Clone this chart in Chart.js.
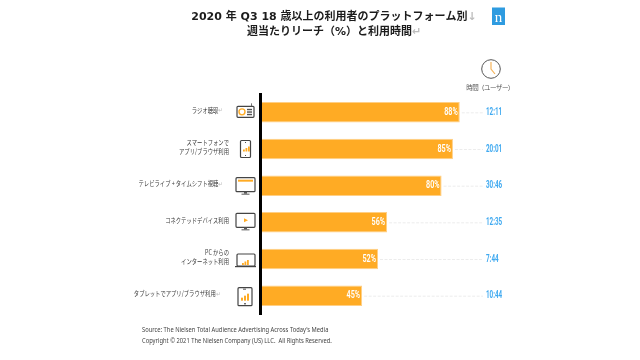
<!DOCTYPE html>
<html lang="ja"><head><meta charset="utf-8">
<script src="https://cdn.jsdelivr.net/npm/chart.js@4"></script>
<style>html,body{margin:0;padding:0;background:#fff}canvas{display:block;filter:blur(0.35px)}</style>
</head><body><canvas id="c" width="640" height="360"></canvas>
<script>
const categories = ["ラジオ聴取", ["スマートフォンで","アプリ/ブラウザ利用"], "テレビライブ + タイムシフト視聴", "コネクテッドデバイス利用", ["PC からの","インターネット利用"], "タブレットでアプリ/ブラウザ利用"];
const reach = [88, 85, 80, 56, 52, 45];
const times = ["12:11", "20:01", "30:46", "12:35", "7:44", "10:44"];
const iconKinds = ["radio", "phone", "tv", "tv2", "laptop", "tablet"];
const titleLines = ["2020 年 Q3 18 歳以上の利用者のプラットフォーム別", "週当たりリーチ（%）と利用時間"];
const titleMarks = ["↓", "↵"];
const timeHeader = "時間（ユーザー）";
const sourceLines = ["Source: The Nielsen Total Audience Advertising Across Today's Media", "Copyright © 2021 The Nielsen Company (US) LLC.  All Rights Reserved."];

const JP = '"Noto Sans CJK JP","Noto Sans",sans-serif';
const ORANGE = '#FFAB24', INK = '#3a3a3a';
const TICK_RIGHT = 229, TICK_SQUEEZE = 0.76, TICK_LIFT = 2;
const tickTailSpaces = { 0: 4, 2: 4, 5: 5 };

function squeezed(ctx, text, x, y, sx, align) {
  ctx.save(); ctx.translate(x, y); ctx.scale(sx, 1);
  ctx.textAlign = align; ctx.textBaseline = 'middle';
  ctx.fillText(text, 0, 0); ctx.restore();
}
function box(ctx, x, y, w, h, r) { ctx.beginPath(); ctx.roundRect(x, y, w, h, r); ctx.stroke(); }
function bars(ctx, x, base) {
  ctx.fillStyle = ORANGE;
  [[0,2],[2.5,3.5],[5,5]].forEach(b => ctx.fillRect(x + b[0], base - b[1], 1.8, b[1]));
}
function drawIcon(ctx, kind, y) {
  ctx.strokeStyle = '#444'; ctx.lineWidth = 1.2; ctx.fillStyle = ORANGE;
  if (kind === 'radio') {
    box(ctx, 237, y - 6, 17, 11, 1);
    ctx.beginPath(); ctx.arc(242, y - 0.5, 3, 0, 7); ctx.strokeStyle = ORANGE; ctx.lineWidth = 1.4; ctx.stroke();
    ctx.fillStyle = '#555'; ctx.fillRect(247, y - 3.5, 5, 1.4); ctx.fillRect(247, y - 1, 5, 1.4); ctx.fillRect(247, y + 1.5, 5, 1.4);
    ctx.fillRect(251, y - 9, 0.8, 3);
  } else if (kind === 'phone') {
    box(ctx, 240.5, y - 8.5, 10, 17, 1);
    ctx.fillStyle = '#555'; ctx.fillRect(245, y - 7, 1, 1); ctx.fillRect(245, y + 6, 1, 1);
    bars(ctx, 243, y + 2.5);
  } else if (kind === 'tv' || kind === 'tv2') {
    const t = kind === 'tv' ? -8 : -9;
    box(ctx, 236, y + t, 19, 14, 1);
    ctx.fillStyle = '#555'; ctx.fillRect(244, y + t + 14, 3, 2); ctx.fillRect(241.5, y + t + 16, 8, 1);
    ctx.fillStyle = ORANGE;
    if (kind === 'tv') ctx.fillRect(238, y + t + 2, 15, 2);
    else { ctx.beginPath(); ctx.moveTo(244, y - 4); ctx.lineTo(248, y - 2); ctx.lineTo(244, y); ctx.closePath(); ctx.fill(); }
  } else if (kind === 'laptop') {
    box(ctx, 237, y - 5, 18, 12, 1);
    ctx.fillStyle = '#444'; ctx.fillRect(235, y + 7, 21, 1.2);
    bars(ctx, 242, y + 6);
  } else {
    box(ctx, 238, y - 8, 14, 18, 1);
    ctx.fillStyle = '#555'; ctx.fillRect(243, y - 7, 3, 1); ctx.fillRect(244, y + 7.5, 2, 1.2);
    ctx.fillStyle = ORANGE;
    [[0,3],[3,5],[6,7]].forEach(b => ctx.fillRect(241 + b[0], y + 5 - b[1], 2, b[1]));
  }
}
function titleLine(ctx, text, mark, cx, y) {
  const tw = ctx.measureText(text).width, mw = ctx.measureText(mark).width;
  const left = cx - (tw + mw) / 2;
  ctx.textAlign = 'left'; ctx.textBaseline = 'middle';
  ctx.fillStyle = '#1c1c1c'; ctx.fillText(text, left, y);
  ctx.fillStyle = '#bdbdbd'; ctx.fillText(mark, left + tw, y);
}

const decorations = {
  id: 'decorations',
  beforeDraw(chart) {
    // The reference's tick labels are horizontally condensed: squeeze the axis's own labels about their right edge.
    const ys = chart.scales.y;
    if (!ys._squeezeWrapped) {
      const orig = ys.drawLabels.bind(ys);
      ys.drawLabels = function (area) {
        const c = chart.ctx; c.save();
        c.translate(TICK_RIGHT, -TICK_LIFT); c.scale(TICK_SQUEEZE, 1); c.translate(-TICK_RIGHT, 0);
        orig(area); c.restore();
      };
      ys._squeezeWrapped = true;
    }
  },
  afterDatasetsDraw(chart) {
    const ctx = chart.ctx, meta = chart.getDatasetMeta(0);
    const xs = chart.scales.x, ys = chart.scales.y;
    ctx.save();
    const timeX = xs.getPixelForValue(100) - 1;
    meta.data.forEach((bar, i) => {
      ctx.strokeStyle = '#ececec'; ctx.lineWidth = 1; ctx.setLineDash([3, 1.5]);
      ctx.beginPath(); ctx.moveTo(bar.x + 2, bar.y + .5); ctx.lineTo(timeX - 3, bar.y + .5); ctx.stroke(); ctx.setLineDash([]);
      ctx.fillStyle = '#fff'; ctx.font = '600 10px Roboto';
      squeezed(ctx, reach[i] + '%', bar.x - 2, bar.y, 0.72, 'right');
      ctx.fillStyle = '#3FA9F0'; ctx.font = 'bold 10.5px Roboto';
      squeezed(ctx, times[i], timeX, bar.y, 0.6, 'left');
      drawIcon(ctx, iconKinds[i], ys.getPixelForValue(i));
      if (i in tickTailSpaces) {
        ctx.fillStyle = '#bdbdbd'; ctx.font = '5.5px ' + JP; ctx.textAlign = 'left'; ctx.textBaseline = 'middle';
        ctx.fillText('↵', TICK_RIGHT - tickTailSpaces[i] * 2.66, bar.y - TICK_LIFT);
      }
    });
    // title
    ctx.font = 'bold 11px "DejaVu Sans","Noto Sans CJK JP",sans-serif';
    titleLine(ctx, titleLines[0], titleMarks[0], 334, 17);
    titleLine(ctx, titleLines[1], titleMarks[1], 334, 32);
    // Nielsen mark
    ctx.fillStyle = '#2E9BE0'; ctx.fillRect(492, 7.5, 13, 17.5);
    ctx.fillStyle = '#fff'; ctx.font = '15px "Liberation Serif"'; ctx.textAlign = 'center'; ctx.fillText('n', 498.5, 18);
    // clock
    ctx.strokeStyle = '#555'; ctx.lineWidth = 1; ctx.beginPath(); ctx.arc(491, 69, 9.3, 0, 7); ctx.stroke();
    ctx.strokeStyle = '#F5B45A'; ctx.lineWidth = 1.2; ctx.beginPath(); ctx.moveTo(491, 62); ctx.lineTo(491, 69); ctx.lineTo(495, 74); ctx.stroke();
    ctx.fillStyle = '#555'; ctx.font = '6.5px ' + JP; ctx.letterSpacing = '-0.55px';
    ctx.fillText(timeHeader, 490, 87.5);
    // source
    ctx.letterSpacing = '0px'; ctx.fillStyle = '#444'; ctx.font = '6.5px "Noto Sans"';
    squeezed(ctx, sourceLines[0], 142, 330, 0.89, 'left');
    squeezed(ctx, sourceLines[1], 142, 341, 0.89, 'left');
    ctx.restore();
  }
};

new Chart(document.getElementById('c'), {
  type: 'bar',
  data: { labels: categories, datasets: [{ data: reach, backgroundColor: ORANGE, borderColor: '#FFCF85', borderWidth: 1, barPercentage: 0.56, categoryPercentage: 1 }] },
  options: {
    indexAxis: 'y', responsive: false, animation: false,
    layout: { padding: { top: 94, bottom: 46, right: 153, left: 0 } },
    plugins: { legend: { display: false }, tooltip: { enabled: false } },
    scales: {
      x: { display: false, min: 0, max: 100 },
      y: {
        afterFit(s) { s.width = 260; },
        grid: { display: false, drawTicks: false },
        border: { color: '#000', width: 3, z: 1 },
        ticks: {
          padding: 31, color: INK, font: { family: JP, size: 7, lineHeight: 1.25 },
          callback(v, i) { return i in tickTailSpaces ? categories[i] + '\u2002'.repeat(tickTailSpaces[i]) : categories[i]; }
        }
      }
    }
  },
  plugins: [decorations]
});
</script></body></html>
